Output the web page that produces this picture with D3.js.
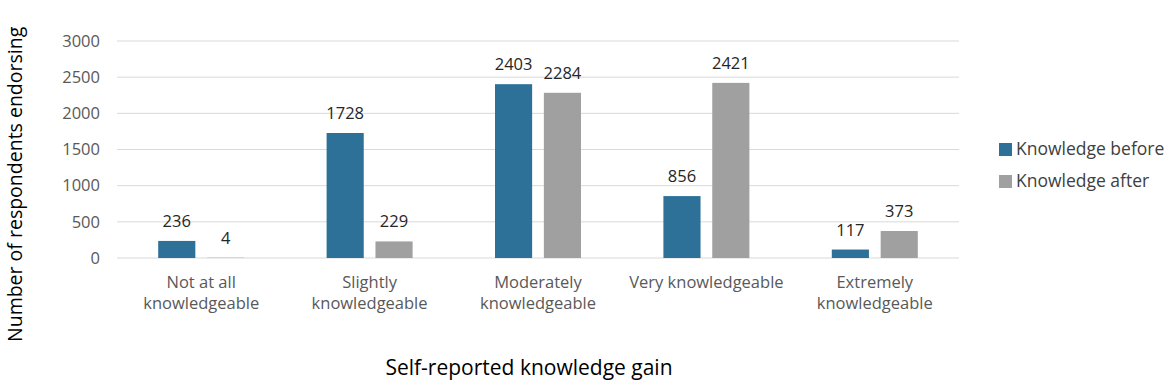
<!DOCTYPE html>
<html>
<head>
<meta charset="utf-8">
<script src="https://cdn.jsdelivr.net/npm/d3@7"></script>
<style>
  body { margin: 0; background: #fff; }
  text { font-family: "Open Sans", "Noto Sans", sans-serif; }
</style>
</head>
<body>
<div id="chart"></div>
<script>
// chart data
const categories = [
  ["Not at all", "knowledgeable"],
  ["Slightly", "knowledgeable"],
  ["Moderately", "knowledgeable"],
  ["Very knowledgeable"],
  ["Extremely", "knowledgeable"]
];
const seriesNames = ["Knowledge before", "Knowledge after"];
const knowledgeBefore = [236, 1728, 2403, 856, 117];
const knowledgeAfter = [4, 229, 2284, 2421, 373];
const yTicks = [0, 500, 1000, 1500, 2000, 2500, 3000];
const colors = ["#2e7198", "#a0a0a0"];

var width = 1170, height = 382;
var margin = {top: 41, right: 211, bottom: 124, left: 117};
var innerW = width - margin.left - margin.right,
    innerH = height - margin.top - margin.bottom;

const svg = d3.select("#chart")
  .append("svg")
    .attr("width", width)
    .attr("height", height);

const g = svg.append("g")
  .attr("transform", `translate(${margin.left}, ${margin.top})`);

const keys = categories.map(function(c) { return c.join(" "); });

const x = d3.scaleBand()
  .domain(keys)
  .range([0, innerW]);

const x1 = d3.scaleBand()
  .domain(seriesNames)
  .range([0, 86])
  .paddingInner(0.24);

const y = d3.scaleLinear()
  .domain([0, 3000])
  .range([innerH, 0]);

// gridlines
g.append("g")
  .selectAll("line")
  .data(yTicks)
  .enter()
  .append("line")
    .attr("x1", 0)
    .attr("x2", innerW)
    .attr("y1", function(d) { return y(d); })
    .attr("y2", function(d) { return y(d); })
    .attr("stroke", "#d9d9d9")
    .attr("stroke-width", 1);

// y axis
const yAxis = g.append("g")
  .call(d3.axisLeft(y).tickValues(yTicks).tickFormat(d3.format("d")).tickSize(0).tickPadding(17));
yAxis.select(".domain").remove();
yAxis.selectAll("text")
  .attr("font-size", 16.5)
  .attr("font-family", "Open Sans, sans-serif")
  .attr("fill", "#595959");

// bars
const data = keys.map(function(k, i) {
  return {key: k, values: [knowledgeBefore[i], knowledgeAfter[i]]};
});

const groups = g.selectAll(".grp")
  .data(data)
  .enter()
  .append("g")
    .attr("transform", function(d) {
      return `translate(${x(d.key) + (x.bandwidth() - 86) / 2}, 0)`;
    });

groups.selectAll("rect")
  .data(function(d) { return d.values.map(function(v, i) { return {name: seriesNames[i], value: v, i: i}; }); })
  .enter()
  .append("rect")
    .attr("x", function(d) { return x1(d.name); })
    .attr("width", x1.bandwidth())
    .attr("y", function(d) { return y(d.value); })
    .attr("height", function(d) { return innerH - y(d.value); })
    .attr("fill", function(d) { return colors[d.i]; });

groups.selectAll(".lbl")
  .data(function(d) { return d.values.map(function(v, i) { return {name: seriesNames[i], value: v}; }); })
  .enter()
  .append("text")
    .attr("x", function(d) { return x1(d.name) + x1.bandwidth() / 2; })
    .attr("y", function(d) { return y(d.value) - 14; })
    .attr("text-anchor", "middle")
    .attr("font-size", 16.5)
    .attr("fill", "#262626")
    .text(function(d) { return d.value; });

// category labels
const cat = g.selectAll(".cat")
  .data(categories)
  .enter()
  .append("text")
    .attr("x", function(d, i) { return x(keys[i]) + x.bandwidth() / 2; })
    .attr("y", innerH + 30)
    .attr("text-anchor", "middle")
    .attr("font-size", 16.5)
    .attr("fill", "#595959");
cat.selectAll("tspan")
  .data(function(d) { return d; })
  .enter()
  .append("tspan")
    .attr("x", function() { return this.parentNode.getAttribute("x"); })
    .attr("dy", function(d, i) { return i === 0 ? 0 : 21; })
    .text(function(d) { return d; });

// axis titles
svg.append("text")
  .attr("x", 529)
  .attr("y", 375)
  .attr("text-anchor", "middle")
  .attr("font-size", 21)
  .attr("fill", "#000")
  .text("Self-reported knowledge gain");

svg.append("text")
  .attr("transform", "translate(22, 342) rotate(-90)")
  .attr("text-anchor", "start")
  .attr("font-size", 19.5)
  .attr("fill", "#000")
  .text("Number of respondents endorsing");

// legend
const legend = svg.append("g")
  .attr("transform", "translate(999, 143)");
seriesNames.forEach(function(name, i) {
  legend.append("rect")
    .attr("x", 0)
    .attr("y", i * 32)
    .attr("width", 13)
    .attr("height", 13)
    .attr("fill", colors[i]);
  legend.append("text")
    .attr("x", 17)
    .attr("y", i * 32 + 12)
    .attr("font-size", 17.5)
    .attr("fill", "#404040")
    .text(name);
});
</script>
</body>
</html>
